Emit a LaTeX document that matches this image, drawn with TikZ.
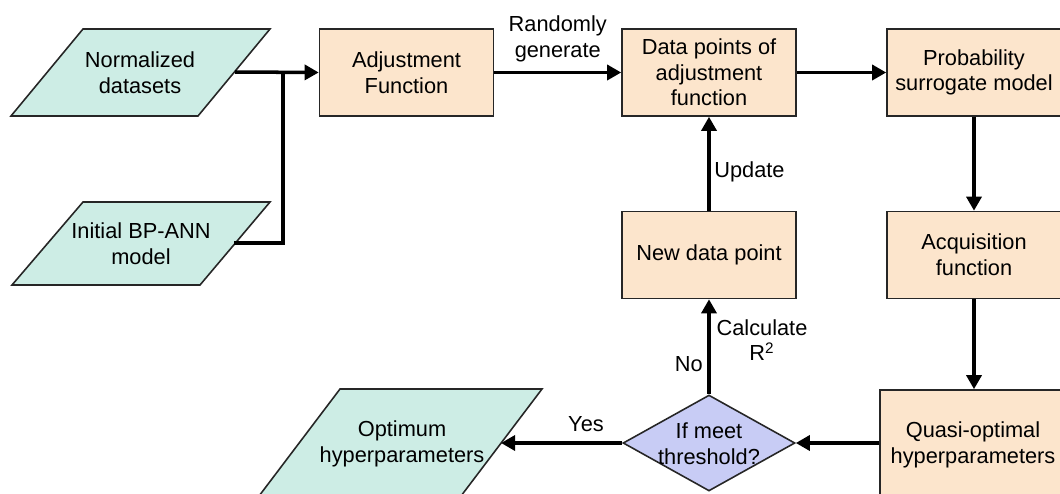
\documentclass[tikz,border=0pt]{standalone}
\usepackage{fontspec}
\setmainfont{Liberation Sans}
\usetikzlibrary{shapes.geometric,arrows.meta}
\definecolor{mint}{RGB}{205,237,229}
\definecolor{peach}{RGB}{252,229,204}
\definecolor{lav}{RGB}{200,204,245}
\begin{document}
\begin{tikzpicture}[x=0.02cm,y=-0.02cm,
  every node/.style={font=\fontsize{12.4pt}{14.6pt}\selectfont, align=center, inner sep=0pt},
  box/.style={draw=black!85, line width=0.9pt, fill=peach, minimum width=3.48cm, minimum height=1.74cm},
  para/.style={draw=black!85, line width=0.9pt, fill=mint, line join=miter},
  conn/.style={line width=2pt, black},
  arr/.style={conn, -{Triangle[length=8pt,width=8.5pt]}}]
\useasboundingbox (0,0) rectangle (1060,493);
\clip (0,0) rectangle (1060,493);
% parallelograms
\draw[para] (83,29) -- (270,29) -- (198,116) -- (11,116) -- cycle;
\node (nd) at (140,73) {Normalized\\datasets};
\draw[para] (83,202) -- (270,202) -- (200,285) -- (12,285) -- cycle;
\node (ib) at (141,244) {Initial BP-ANN\\model};
\draw[para] (340,389) -- (542,389) -- (458,500) -- (256,500) -- cycle;
\node (opt) at (402,444) {Optimum\\hyperparameters};
\coordinate (ndR) at (235,72);
\coordinate (ibR) at (234,243);
\coordinate (jn) at (283,72);
\coordinate (optR) at (501,443);
% boxes
\node[box] (adj) at (406.5,72.5) {Adjustment\\Function};
\node[box] (dp) at (709,72.5) {Data points of\\adjustment\\function};
\node[box] (prob) at (974,72.5) {Probability\\surrogate model};
\node[box] (acq) at (974,255) {Acquisition\\function};
\node[box] (ndp) at (709,255) {New data point};
\node[box, minimum width=3.72cm, minimum height=2.2cm] (quasi) at (973,445) {Quasi-optimal\\hyperparameters};
\node[draw=black!85, line width=0.9pt, fill=lav, shape=diamond, minimum width=3.44cm, minimum height=1.92cm] (dec) at (709,443) {};
\node (dect) at (709,444) {If meet\\threshold?};
% connectors
\draw[conn] (ibR) -| (jn);
\draw[arr] (ndR) -- (adj.west);
\draw[arr] (adj.east) -- node[above=5pt] (rg) {Randomly\\generate} (dp.west);
\draw[arr] (dp.east) -- (prob.west);
\draw[arr] (prob.south) -- (acq.north);
\draw[arr] (acq.south) -- (acq.south |- quasi.north);
\draw[arr] (quasi.west |- dec) -- (dec.east);
\draw[arr] (dec.west) -- (optR);
\draw[arr] (dec.north) -- (ndp.south);
\draw[arr] (ndp.north) -- (dp.south);
% labels
\node[anchor=west] (upd) at (714,172) {Update};
\node[anchor=east] (no) at (703,364) {No};
\node (calc) at (762,340) {Calculate\\R\textsuperscript{2}};
\node (yes) at (586,424) {Yes};
\end{tikzpicture}
\end{document}
